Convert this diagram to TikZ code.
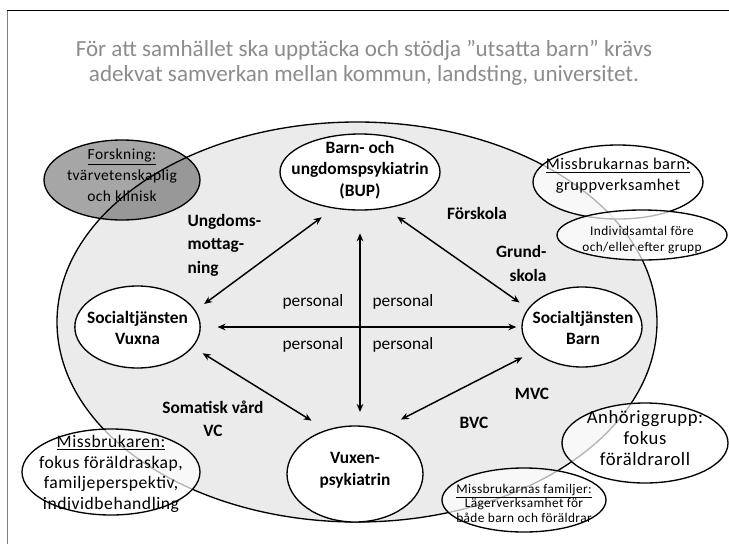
\documentclass[tikz,border=0pt]{standalone}
\usepackage{fontspec}
\setmainfont{Carlito}
\newfontfamily\spaced[LetterSpace=3]{Carlito}
\usetikzlibrary{shapes.geometric,arrows.meta}

\definecolor{titlegray}{RGB}{140,140,140}
\definecolor{framegray}{RGB}{128,128,128}
\definecolor{forskgray}{RGB}{166,166,166}

\tikzset{every picture/.style={line width=0.75pt}}
\tikzset{
  bubble/.style={ellipse, draw, line width=1pt, fill=white, inner sep=0pt},
  glassbubble/.style={ellipse, draw, line width=1pt, fill=white, fill opacity=0.7, inner sep=0pt},
  boldtext/.style={font=\bfseries\fontsize{13}{16.3}\selectfont, align=center, inner sep=0.75pt},
  plaintext/.style={font=\spaced\fontsize{12.3}{15.75}\selectfont, align=center, inner sep=0.75pt},
  smalltext/.style={font=\spaced\fontsize{10}{11.5}\selectfont, align=center, inner sep=0.75pt},
  persontext/.style={font=\fontsize{13}{15}\selectfont, inner sep=0.75pt},
  link/.style={<->, line width=1.1pt, >={Stealth[length=6pt,width=5pt]}}
}

\begin{document}
\begin{tikzpicture}[x=0.75pt,y=0.75pt,yscale=-1,xscale=1]
\useasboundingbox (0,0) rectangle (729,544);

%Straight Lines [frame]
\draw [color=framegray] (7,10) -- (7,544) ;
\draw (7,10) -- (729,10) ;

% Text Node
\node (title) at (364,63) [font=\fontsize{17.3}{18.75}\selectfont, text=titlegray, align=center, inner sep=0.75pt] {För att samhället ska upptäcka och stödja ”utsatta barn” krävs\\adekvat samverkan mellan kommun, landsting, universitet.};

%Shape: Ellipse [forskning]
\node (forsk) at (122,180) [ellipse, draw, line width=1pt, fill=forskgray, inner sep=0pt, minimum width=117pt, minimum height=60pt] {};
% Text Node
\node (forsktxt) at (122,175) [plaintext, font=\spaced\fontsize{11.6}{15.75}\selectfont] {\underline{Forskning:}\\tvärvetenskaplig\\och klinisk};

%Shape: Ellipse [samverkan]
\node (samverkan) at (357,322) [ellipse, draw, line width=1pt, fill=black, fill opacity=0.08, inner sep=0pt, minimum width=450pt, minimum height=300pt] {};

%Shape: Ellipse
\node (bup) at (360,172) [bubble, minimum width=120pt, minimum height=57pt] {};
\node (vuxna) at (137.5,327) [bubble, minimum width=94pt, minimum height=61.5pt] {};
\node (barn) at (582,327) [bubble, minimum width=90pt, minimum height=60pt] {};
\node (vuxpsyk) at (355,474) [bubble, minimum width=102pt, minimum height=72pt] {};
% Text Node
\node (buptxt) at (360,170) [boldtext] {Barn- och\\ungdomspsykiatrin\\(BUP)};
\node (vuxnatxt) at (137.5,328) [boldtext] {Socialtjänsten\\Vuxna};
\node (barntxt) at (583,328) [boldtext] {Socialtjänsten\\Barn};
\node (vuxpsyktxt) at (355,470) [boldtext] {Vuxen-\\psykiatrin};

%Straight Lines [arrows]
\draw [link, shorten <=17pt, shorten >=10pt] (bup.south) -- (bup.south |- vuxpsyk.north) ;
\draw [link, shorten <=12.5pt, shorten >=3.75pt] (vuxna.east) -- (barn.west) ;
\draw [link, shorten <=11pt, shorten >=8pt] (bup.234) -- (vuxna.16) ;
\draw [link, shorten <=10.5pt, shorten >=7.7pt] (bup.305) -- (barn.161) ;
\draw [link, shorten <=8.6pt, shorten >=13pt] (vuxna.340) -- (vuxpsyk.123) ;
\draw [link, shorten <=9.5pt, shorten >=16pt] (barn.207) -- (vuxpsyk.59) ;

% Text Node
\node (ungdom) at (186,245) [boldtext, font=\bfseries\fontsize{13}{17.6}\selectfont, anchor=west, align=left] {Ungdoms-\\mottag-\\ning};
\node (forskola) at (477,213) [boldtext] {Förskola};
\node (grundskola) at (548,263.5) [boldtext, font=\bfseries\fontsize{13}{17.3}\selectfont, anchor=east, align=right] {Grund-\\skola};
\node (somatisk) at (213,418.5) [boldtext, font=\bfseries\fontsize{13}{17.3}\selectfont] {Somatisk vård\\VC};
\node (mvc) at (532,394) [boldtext] {MVC};
\node (bvc) at (474,423) [boldtext] {BVC};
% Text Node
\node (pers1) at (313,302) [persontext] {personal};
\node (pers2) at (403,302) [persontext] {personal};
\node (pers3) at (313,345) [persontext] {personal};
\node (pers4) at (403,345) [persontext] {personal};

%Shape: Ellipse [outer groups]
\node (mbarn) at (618,182) [glassbubble, minimum width=127.5pt, minimum height=55.5pt] {};
\node (indiv) at (642,235) [glassbubble, minimum width=127.5pt, minimum height=37.5pt] {};
\node (mkaren) at (111,472) [glassbubble, minimum width=133.5pt, minimum height=64.5pt] {};
\node (anhor) at (645,443) [glassbubble, minimum width=124.5pt, minimum height=60pt] {};
\node (mfam) at (524,500) [glassbubble, minimum width=123pt, minimum height=48pt] {};
% Text Node
\node (mbarntxt) at (618,176) [plaintext] {\underline{Missbrukarnas barn:}\\gruppverksamhet};
\node (indivtxt) at (642,240) [smalltext] {Individsamtal före\\och/eller efter grupp};
\node (mkarentxt) at (111,474) [plaintext, font=\spaced\fontsize{13.2}{15.5}\selectfont] {\underline{Missbrukaren:}\\fokus föräldraskap,\\familjeperspektiv,\\individbehandling};
\node (anhortxt) at (645,438) [plaintext, font=\spaced\fontsize{14}{16}\selectfont] {Anhöriggrupp:\\fokus\\föräldraroll};
\node (mfamtxt) at (524,503) [smalltext, font=\spaced\fontsize{10}{10.9}\selectfont] {\underline{Missbrukarnas familjer:}\\Lägerverksamhet för\\både barn och föräldrar};
\end{tikzpicture}
\end{document}
